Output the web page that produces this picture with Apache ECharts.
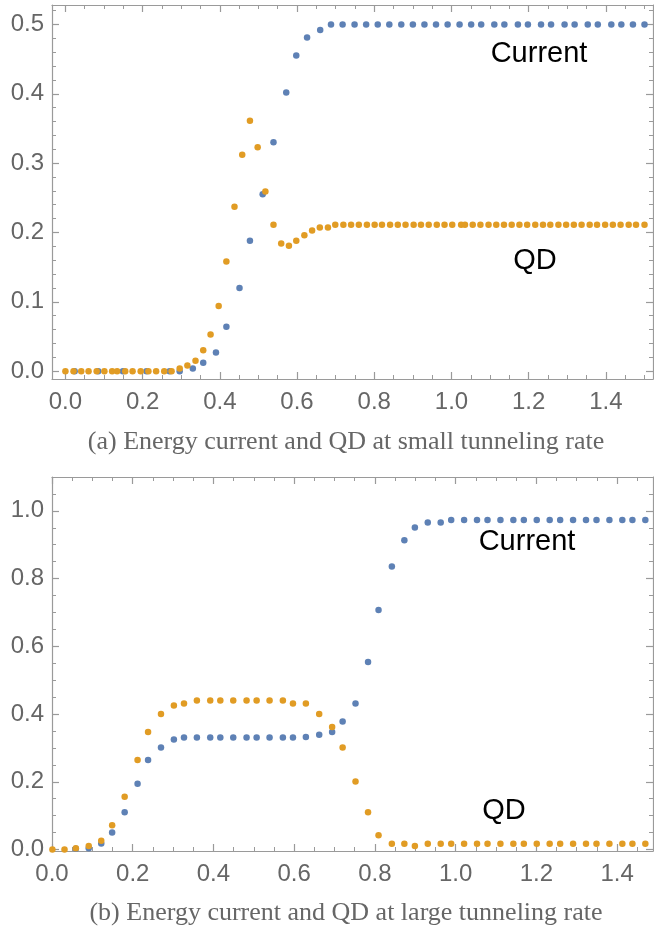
<!DOCTYPE html>
<html>
<head>
<meta charset="utf-8">
<script src="https://cdn.jsdelivr.net/npm/echarts@6/dist/echarts.min.js"></script>
<style>
html,body{margin:0;padding:0;background:#fff;}
#chart{width:654px;height:932px;}
</style>
</head>
<body>
<div id="chart"></div>
<script>
// ---------- Panel (a): small tunneling rate ----------
const aCurrentX = [0.024,0.085,0.149,0.210,0.270,0.296,0.330,0.357,0.390,0.417,0.451,0.478,0.511,0.539,0.572,0.598,0.626,0.660,
  0.688,0.718,0.749,0.779,0.809,0.839,0.870,0.900,0.930,0.960,0.990,1.021,1.051,1.077,1.111,1.137,1.172,1.198,1.232,1.258,1.293,1.319,1.353,1.379,1.414,1.440,1.470,1.500];
const aCurrentY = [0,0,0,0,0,0,0.004,0.012,0.027,0.064,0.120,0.188,0.255,0.330,0.402,0.455,0.481,0.492,
  0.5,0.5,0.5,0.5,0.5,0.5,0.5,0.5,0.5,0.5,0.5,0.5,0.5,0.5,0.5,0.5,0.5,0.5,0.5,0.5,0.5,0.5,0.5,0.5,0.5,0.5,0.5,0.5];
const aQDX = [0.000,0.021,0.041,0.060,0.081,0.101,0.121,0.134,0.155,0.174,0.195,0.215,0.235,0.256,0.275,
  0.296,0.316,0.337,0.357,0.376,0.397,0.417,0.438,0.458,0.478,0.498,0.518,0.539,0.559,0.579,0.598,0.619,0.639,0.659,0.680,
  0.699,0.720,0.740,0.760,0.781,0.801,0.820,0.841,0.861,0.881,0.902,0.921,0.941,0.962,0.982,1.002,1.025,1.035,1.055,1.075,
  1.096,1.116,1.136,1.156,1.176,1.196,1.217,1.237,1.256,1.277,1.297,1.317,1.337,1.358,1.377,1.398,1.418,1.438,1.459,1.478,1.500];
const aQDY = [0,0,0,0,0,0,0,0,0,0,0,0,0,0,0,
  0.004,0.008,0.015,0.030,0.053,0.094,0.158,0.237,0.312,0.361,0.323,0.259,0.211,0.184,0.181,0.188,0.196,0.203,0.207,0.207,
  0.211,0.211,0.211,0.211,0.211,0.211,0.211,0.211,0.211,0.211,0.211,0.211,0.211,0.211,0.211,0.211,0.211,0.211,0.211,0.211,
  0.211,0.211,0.211,0.211,0.211,0.211,0.211,0.211,0.211,0.211,0.211,0.211,0.211,0.211,0.211,0.211,0.211,0.211,0.211,0.211,0.211];

// ---------- Panel (b): large tunneling rate ----------
const bCurrentX = [0.059,0.091,0.122,0.149,0.180,0.212,0.238,0.270,0.302,0.327,0.359,0.392,0.417,0.449,0.482,0.507,0.539,0.572,0.597,
  0.629,0.662,0.694,0.720,0.752,0.783,0.809,0.842,0.873,0.899,0.931,0.963,
  0.989,1.021,1.053,1.079,1.111,1.143,1.169,1.201,1.233,1.259,1.291,1.323,1.349,1.381,1.413,1.438,1.470];
const bCurrentY = [0.002,0.004,0.018,0.050,0.110,0.194,0.264,0.301,0.325,0.331,0.331,0.331,0.331,0.331,0.331,0.331,0.331,0.331,0.331,
  0.332,0.339,0.347,0.378,0.431,0.554,0.707,0.836,0.913,0.951,0.966,0.966,
  0.973,0.973,0.973,0.973,0.973,0.973,0.973,0.973,0.973,0.973,0.973,0.973,0.973,0.973,0.973,0.973,0.973];
const bQDX = [0.001,0.031,0.059,0.091,0.122,0.149,0.180,0.212,0.238,0.270,0.302,0.327,0.359,0.392,0.417,0.449,0.482,0.507,0.539,0.572,
  0.597,0.629,0.662,0.694,0.720,0.752,0.783,0.809,0.842,0.873,0.899,
  0.931,0.963,0.989,1.021,1.053,1.079,1.111,1.143,1.169,1.201,1.233,1.259,1.291,1.323,1.349,1.381,1.413,1.438,1.470];
const bQDY = [0,0,0.004,0.010,0.026,0.072,0.156,0.264,0.347,0.400,0.425,0.431,0.440,0.440,0.440,0.440,0.440,0.440,0.440,0.440,
  0.431,0.431,0.400,0.362,0.301,0.201,0.110,0.042,0.017,0.017,0.010,
  0.017,0.017,0.017,0.017,0.017,0.017,0.017,0.017,0.017,0.017,0.017,0.017,0.017,0.017,0.017,0.017,0.017,0.017,0.017];

// ---------- tick labels ----------
const aXTicks = [0.0,0.2,0.4,0.6,0.8,1.0,1.2,1.4];
const aYTicks = [0.0,0.1,0.2,0.3,0.4,0.5];
const bXTicks = [0.0,0.2,0.4,0.6,0.8,1.0,1.2,1.4];
const bYTicks = [0.0,0.2,0.4,0.6,0.8,1.0];
const aXMinorStep = 0.05, aYMinorStep = 0.02, bXMinorStep = 0.05, bYMinorStep = 0.05;

const BLUE = '#5E81B5', ORANGE = '#E19C24';
const FRAME = '#9a9a9a', LABEL = '#666666';

function minorList(min, max, step){
  const out = [];
  for (let k = Math.ceil(min/step - 1e-9); k*step <= max + 1e-9; k++) out.push(+(k*step).toFixed(4));
  return out;
}

function axesFor(dim, gridIndex, min, max, majors, minorStep){
  const minors = minorList(min, max, minorStep);
  const pos = dim === 'x' ? ['bottom','top'] : ['left','right'];
  const res = [];
  pos.forEach((p, pi) => {
    res.push({
      type:'value', gridIndex, position:p, min, max,
      axisLine:{show:true, onZero:false, lineStyle:{color:FRAME, width:1.2}},
      axisTick:{show:true, inside:true, length:7, customValues:majors, lineStyle:{color:FRAME, width:1.2}},
      axisLabel:{show: pi === 0, customValues:majors, color:LABEL, fontSize:24,
        fontFamily:'Liberation Sans, Arial, sans-serif', margin: dim === 'x' ? 11 : 8,
        formatter: v => Number(v).toFixed(1)},
      splitLine:{show:false}
    });
    res.push({
      type:'value', gridIndex, position:p, min, max,
      axisLine:{show:false, onZero:false},
      axisTick:{show:true, inside:true, length:4, customValues:minors, lineStyle:{color:FRAME, width:1}},
      axisLabel:{show:false},
      splitLine:{show:false}
    });
  });
  return res;
}

const aXMin = -0.0347, aXMax = 1.522, aYMin = -0.0113, aYMax = 0.528;
const bXMin = 0.0, bXMax = 1.489, bYMin = -0.0044, bYMax = 1.100;

const xAxes = [].concat(
  axesFor('x', 0, aXMin, aXMax, aXTicks, aXMinorStep),
  axesFor('x', 1, bXMin, bXMax, bXTicks, bXMinorStep));
const yAxes = [].concat(
  axesFor('y', 0, aYMin, aYMax, aYTicks, aYMinorStep),
  axesFor('y', 1, bYMin, bYMax, bYTicks, bYMinorStep));

const zip = (xs, ys) => xs.map((x, i) => [x, ys[i]]);
const pt = (name, data, color, xi, yi) => ({
  name, type:'scatter', data, xAxisIndex:xi, yAxisIndex:yi, symbolSize:6.5, clip:false,
  itemStyle:{color, opacity:1}, silent:true, animation:false
});

const LBL_FONT = '29px "Liberation Sans", Arial, sans-serif';
const CAP_FONT = '26px "Liberation Serif", "Times New Roman", serif';

const option = {
  animation:false,
  backgroundColor:'#ffffff',
  grid:[
    {left:52, top:5, width:601, height:374},
    {left:52, top:477, width:601, height:374}
  ],
  xAxis:xAxes,
  yAxis:yAxes,
  series:[
    pt('Current', zip(aCurrentX, aCurrentY), BLUE, 0, 0),
    pt('QD', zip(aQDX, aQDY), ORANGE, 0, 0),
    pt('Current', zip(bCurrentX, bCurrentY), BLUE, 4, 4),
    pt('QD', zip(bQDX, bQDY), ORANGE, 4, 4)
  ],
  graphic:[
    {type:'text', style:{text:'Current', fill:'#000', font:LBL_FONT, x:539, y:54, align:'center', verticalAlign:'middle'}},
    {type:'text', style:{text:'QD', fill:'#000', font:LBL_FONT, x:535, y:261, align:'center', verticalAlign:'middle'}},
    {type:'text', style:{text:'Current', fill:'#000', font:LBL_FONT, x:527, y:542, align:'center', verticalAlign:'middle'}},
    {type:'text', style:{text:'QD', fill:'#000', font:LBL_FONT, x:504, y:811, align:'center', verticalAlign:'middle'}},
    {type:'text', style:{text:'(a) Energy current and QD at small tunneling rate', fill:'#666', font:CAP_FONT, x:346, y:442, align:'center', verticalAlign:'middle'}},
    {type:'text', style:{text:'(b) Energy current and QD at large tunneling rate', fill:'#666', font:CAP_FONT, x:346, y:913, align:'center', verticalAlign:'middle'}}
  ]
};

const chart = echarts.init(document.getElementById('chart'), null, {renderer:'canvas'});
chart.setOption(option);
</script>
</body>
</html>
